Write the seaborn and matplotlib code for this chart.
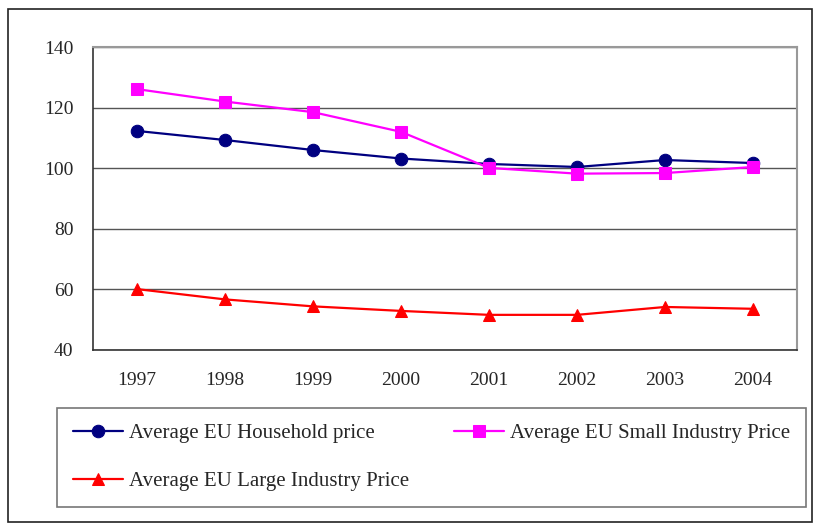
import matplotlib.pyplot as plt
import seaborn as sns
import pandas as pd
from matplotlib.patches import Rectangle

# data
years = ["1997", "1998", "1999", "2000", "2001", "2002", "2003", "2004"]
household = [112.3, 109.3, 106.0, 103.2, 101.4, 100.4, 102.7, 101.7]
small_industry = [126.1, 122.0, 118.5, 112.0, 100.1, 98.2, 98.4, 100.4]
large_industry = [60.1, 56.7, 54.4, 52.9, 51.6, 51.6, 54.2, 53.6]

df = pd.DataFrame({
    "Year": years * 3,
    "Price": household + small_industry + large_industry,
    "Series": ["Average EU Household price"] * 8
              + ["Average EU Small Industry Price"] * 8
              + ["Average EU Large Industry Price"] * 8,
})

sns.set_style("white")
plt.rcParams['font.family'] = ['Liberation Serif', 'DejaVu Serif']

fig = plt.figure(figsize=(8.16, 5.27), dpi=100)
ax = fig.add_axes([93 / 816, 1 - 350 / 527, 704 / 816, 303 / 527])

styles = {
    "Average EU Household price": ("#000080", "o", 9),
    "Average EU Small Industry Price": ("#FF00FF", "s", 8),
    "Average EU Large Industry Price": ("#FF0000", "^", 9),
}
for name, (col, mk, ms) in styles.items():
    sub = df[df["Series"] == name]
    sns.lineplot(x="Year", y="Price", data=sub, ax=ax, color=col, marker=mk,
                 markersize=ms, markeredgecolor=col, linewidth=1.6, label=name)

ax.set_xlim(-0.5, 7.5)
ax.set_ylim(40, 140)
ax.set_yticks(range(40, 141, 20))
ax.set_xticks(range(8))
ax.set_xticklabels(years)
ax.set_xticks([i - 0.5 for i in range(9)], minor=True)
ax.tick_params(axis="x", which="major", length=0, pad=16, labelsize=14)
ax.tick_params(axis="x", which="minor", length=5, width=1, color="#333333", direction="out")
ax.tick_params(axis="y", length=5, width=1, color="#333333", direction="out", pad=9, labelsize=14)
ax.yaxis.grid(True, color="#555555", linewidth=1)
ax.set_axisbelow(True)
ax.set_xlabel("")
ax.set_ylabel("")
for s in ["left", "bottom"]:
    ax.spines[s].set_color("#333333")
    ax.spines[s].set_linewidth(1.2)
for s in ["top", "right"]:
    ax.spines[s].set_color("#999999")
    ax.spines[s].set_linewidth(1.5)

# legend below the plot, row order Household, Small / Large
h, l = ax.get_legend_handles_labels()
ax.get_legend().remove()
order = [0, 2, 1]
leg = fig.legend([h[i] for i in order], [l[i] for i in order], ncol=2,
                 loc="upper left", mode="expand",
                 bbox_to_anchor=(57 / 816, 1 - 507 / 527, 749 / 816, 99 / 527),
                 frameon=True, fancybox=False, edgecolor="#555555",
                 fontsize=15, handlelength=2.4, handletextpad=0.3,
                 labelspacing=1.35, borderpad=0.75, borderaxespad=0)
leg.get_frame().set_linewidth(1.2)

# outer chart border
fig.patches.append(Rectangle((8 / 816, 5 / 527), 804 / 816, 513 / 527,
                             transform=fig.transFigure, fill=False,
                             edgecolor="#222222", linewidth=1.2))

plt.savefig("out.png", dpi=100)
